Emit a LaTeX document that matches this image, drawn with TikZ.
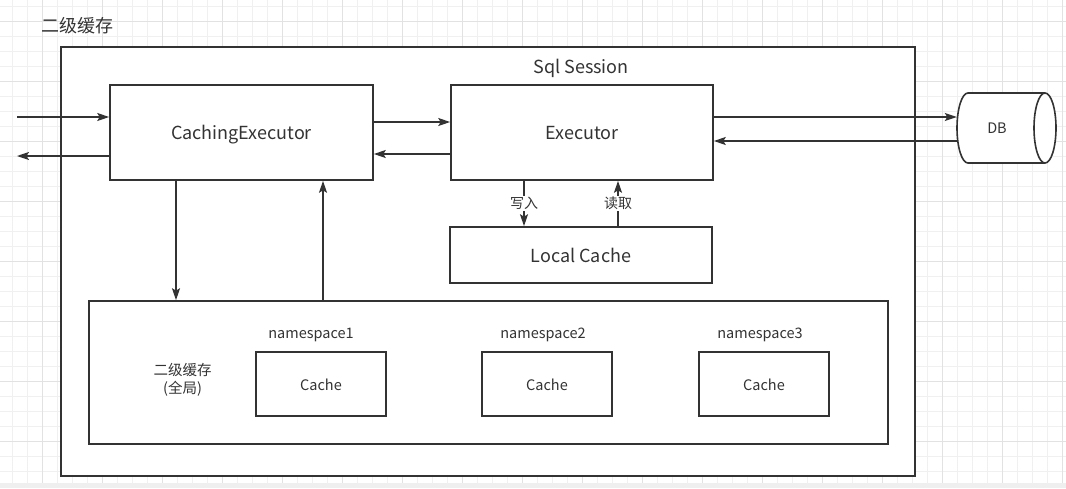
\documentclass[tikz,border=0pt]{standalone}
\usepackage{fontspec}
\setmainfont{Noto Sans CJK SC}
\usetikzlibrary{arrows.meta}

\definecolor{ink}{HTML}{333333}
\definecolor{gridminor}{HTML}{F0F0F0}
\definecolor{gridmajor}{HTML}{E2E2E2}
\definecolor{strip}{HTML}{EFEFEF}

\tikzset{
  box/.style={draw=ink, line width=1.6pt, fill=white, inner sep=0pt, text=ink},
  flow/.style={draw=ink, line width=1.5pt, -{Stealth[length=12pt,width=8pt,inset=2.5pt]}},
  big/.style={text=ink, text height=14.5pt, text depth=0pt, font=\fontsize{18}{21}\selectfont},
  small/.style={text=ink, text height=12pt, text depth=0pt, font=\fontsize{14.5}{18}\selectfont},
  tag/.style={fill=white, inner sep=1pt, text=ink, font=\fontsize{14}{16}\selectfont}
}

\begin{document}
\begin{tikzpicture}[x=1pt,y=-1pt]
    \useasboundingbox (0,0) rectangle (1066,488);
    % background grid
    \foreach \x in {12,27,...,1062}
      \draw[gridminor, line width=1pt] (\x,0) -- (\x,483);
    \foreach \y in {6,21,...,471}
      \draw[gridminor, line width=1pt] (0,\y) -- (1066,\y);
    \foreach \x in {42,102,...,1062}
      \draw[gridmajor, line width=1pt] (\x,0) -- (\x,483);
    \foreach \y in {21,81,...,441}
      \draw[gridmajor, line width=1pt] (0,\y) -- (1066,\y);
    \fill[strip] (0,483) rectangle (1066,488);

    \node[text=ink, font=\fontsize{18}{20}\selectfont] (title) at (77.5,26) {二级缓存};

    % sql session
    \node[box, minimum width=854pt, minimum height=429pt] (ses) at (488,261.5) {};
    \node[big] (seslabel) at (581,66) {Sql Session};
    \node[box, big, minimum width=263pt, minimum height=95pt] (cexec) at (241.5,132.5) {CachingExecutor};
    \node[box, big, minimum width=262pt, minimum height=95pt] (exec) at (582,132.5) {Executor};
    \node[box, big, minimum width=262pt, minimum height=56pt] (lcache) at (581,255) {Local Cache};

    % second level cache
    \node[box, minimum width=799pt, minimum height=143pt] (l2) at (488.5,372.5) {};
    \node[text=ink, font=\fontsize{14.5}{18}\selectfont, align=center] (l2label) at (182.5,380) {二级缓存\\(全局)};
    \foreach \i/\cx/\lx in {1/321/311, 2/547/543, 3/764/760}
    {
      \node[box, small, minimum width=130pt, minimum height=64pt] (cache\i) at (\cx,384) {Cache};
      \node[small] (ns\i) at (\lx,332) {namespace\i};
    }

    % database, a lying cylinder
    \node[small, minimum width=100pt, minimum height=70pt, inner sep=0pt] (db) at (1007,128) {};
    \draw[ink, line width=1.6pt, fill=white] (968,93) -- (1045,93)
      arc[start angle=-90, end angle=90, x radius=11, y radius=35] -- (968,163)
      arc[start angle=90, end angle=270, x radius=11, y radius=35] -- cycle;
    \draw[ink, line width=1.6pt] (1045,93) arc[start angle=-90, end angle=-270, x radius=11, y radius=35];
    \node[small] (dblabel) at (997,127.5) {DB};

    % connectors
    \coordinate (inL) at (17,117);
    \coordinate (outL) at (17,156);
    \draw[flow] (inL) -- (inL -| cexec.west);
    \draw[flow] (cexec.west |- outL) -- (outL);
    \draw[flow] (cexec.east |- 0,122) -- (exec.west |- 0,122);
    \draw[flow] (exec.west |- 0,154) -- (cexec.east |- 0,154);
    \draw[flow] (exec.east |- 0,117) -- (db.west |- 0,117);
    \draw[flow] (db.west |- 0,141) -- (exec.east |- 0,141);
    \draw[flow] (cexec.south -| 176,0) -- (l2.north -| 176,0);
    \draw[flow] (l2.north -| 323,0) -- (cexec.south -| 323,0);
    \draw[flow] (exec.south -| 524,0) -- node[tag] {写入} (lcache.north -| 524,0);
    \draw[flow] (lcache.north -| 618,0) -- node[tag] {读取} (exec.south -| 618,0);
\end{tikzpicture}
\end{document}
